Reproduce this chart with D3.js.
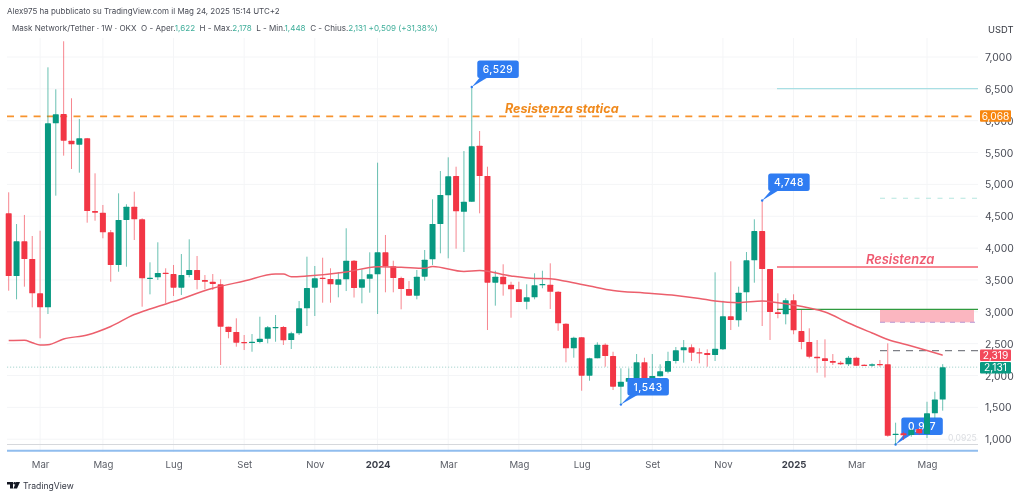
<!DOCTYPE html>
<html><head><meta charset="utf-8">
<script src="https://cdn.jsdelivr.net/npm/d3@7"></script>
<style>
html,body{margin:0;padding:0;background:#fff;overflow:hidden}
svg{display:block;filter:blur(.4px)}
text{font-family:Inter,"Noto Sans",sans-serif}
</style></head><body>
<svg id="c" width="1024" height="497"></svg>
<script>
const opens=[4546,3562,4107,3829,3290,3070,5959,6105,5686,5623,5724,4582,4556,4248,3735,4441,4650,4452,3519,3541,3614,3593,3378,3577,3656,3499,3472,3432,2766,2683,2526,2510,2526,2577,2750,2761,2557,2662,3055,3378,3535,3515,3425,3510,3802,3378,3519,3588,3934,3714,3531,3358,3253,3551,3824,4378,4829,5132,4571,4728,5607,5132,3457,3551,3425,3353,3158,3227,3425,3425,3315,2813,2427,2599,1997,2270,2483,2306,1824,1902,1956,2207,1940,1987,2059,2227,2395,2442,2364,2353,2322,2411,2929,2866,3306,3808,4268,3672,2992,2961,3180,2698,2526,2295,2270,2227,2201,2175,2279,2169,2154,2180,2175,1065,1092,1065,1160,1081,1406,1622];
const highs=[4876,4378,4520,4190,4273,6838,6493,7247,6352,6027,5729,5174,4677,4284,4860,4688,4885,4468,3777,4091,3683,3735,3907,4138,3876,3577,3593,3510,2766,2898,2636,2651,2923,2777,2950,2777,2687,3169,3865,3719,3849,3683,3625,4311,3813,3667,3934,5341,4206,3802,3551,3483,3656,3970,4766,5210,5425,5278,5524,6529,5838,5278,3645,3746,3472,3472,3432,3604,3645,3761,3322,2819,2609,2604,2279,2521,2505,2373,2113,2113,2337,2279,2337,2176,2373,2447,2557,2489,2427,2411,3620,3174,3793,3394,3939,4452,4748,3672,3290,3212,3275,3028,2741,2557,2568,2337,2227,2306,2295,2175,2191,2243,2505,1259,1117,1171,1171,1588,1745,2178];
const lows=[3331,3196,3394,3070,2584,2965,4823,5451,5242,5184,4399,4430,4154,3472,3629,3708,4127,3080,3274,3499,3133,3248,3264,3541,3353,3353,3342,2165,2584,2452,2400,2373,2505,2505,2530,2479,2416,2636,2777,2934,3143,3143,3227,3326,3224,3133,3300,2965,3306,3306,3039,3253,3196,3488,3735,3918,3840,3991,3939,4724,4546,2714,3096,3253,2907,3154,3039,3196,3369,3044,2703,2207,2279,1761,1918,2270,2138,1772,1543,1851,1956,1929,1898,1981,2034,2188,2201,2227,2191,2138,2227,2400,2714,2766,3001,3457,2777,2557,2898,2803,2647,2411,2270,2044,1968,2165,2165,2149,2149,2149,2138,2138,1039,917,987,1039,1065,1018,1328,1448];
const closes=[3562,4107,3829,3290,3070,5959,6100,5686,5630,5724,4582,4556,4248,3735,4441,4650,4452,3526,3535,3609,3593,3378,3577,3656,3499,3472,3436,2766,2683,2515,2515,2530,2577,2757,2761,2552,2662,3055,3373,3526,3519,3432,3510,3802,3373,3510,3588,3934,3714,3531,3358,3253,3551,3818,4378,4834,5127,4578,4728,5598,5132,3457,3551,3432,3353,3154,3227,3416,3436,3315,2819,2427,2593,1997,2270,2483,2306,1824,1902,1960,2207,1956,1992,2066,2227,2395,2442,2358,2353,2322,2420,2929,2871,3300,3808,4268,3672,2997,2965,3180,2709,2526,2295,2270,2227,2201,2175,2279,2154,2160,2175,2165,1054,1086,1061,1144,1092,1406,1622,2131];

const maIndex=[0,2,3,4,5,7,10,13,16,18,21,26,30,34,35,36,38,43,47,50,53,54,58,60,64,67,69,71,74,77,81,85,88,90,93,96,98,100,102,104,107,110,112,115,117,119];
const maValues=[2548,2552,2515,2479,2483,2573,2636,2769,2957,3044,3161,3369,3483,3593,3593,3551,3562,3625,3708,3699,3683,3711,3633,3648,3562,3523,3519,3479,3405,3334,3295,3256,3209,3169,3143,3169,3143,3106,3059,2997,2824,2667,2565,2463,2392,2319];

const priceTicks=[1000,1500,2000,2500,3000,3500,4000,4500,5000,5500,6000,6500,7000];
const timeIndex=[4,12,21,30,39,47,56,65,73,82,91,100,108,117];
const timeLabels=["Mar","Mag","Lug","Set","Nov","2024","Mar","Mag","Lug","Set","Nov","2025","Mar","Mag"];
const boldLabels=["2024","2025"];

const staticResistance=6068, lastClose=2131, maLast=2319;
const topLine=6505, upperDashed=4782, resistance=3703, greenLevel=3039, zoneLow=2835, greyDashed=2389, lowLine=917, blueLine=819;
const peaks=[{i:59,v:6529,t:"6,529",dx:5.5,dy:-26.5},{i:96,v:4748,t:"4,748",dx:6,dy:-27},{i:78,v:1543,t:"1,543",dx:6.5,dy:-26.5}];
const bottomPeak={i:113,v:917,t:"0,917",dx:5.7,dy:-27};

const GREEN="#089981",RED="#f23645";
const svg=d3.select("#c");
const x=d3.scaleLinear().domain([0,119]).range([8.7,942.7]);
const y=d3.scaleLinear().domain([1000,7000]).range([439.2,57]);
const L=7,R=978;

// grid
const grid=svg.append("g").attr("stroke","#f4f5f7").attr("stroke-width",1);
grid.selectAll("line.v").data(timeIndex).join("line").attr("class","v").attr("x1",d=>x(d)).attr("x2",d=>x(d)).attr("y1",38).attr("y2",452);
grid.selectAll("line.h").data(priceTicks).join("line").attr("class","h").attr("x1",L).attr("x2",R).attr("y1",d=>y(d)).attr("y2",d=>y(d));

// axes
const yAxis=d3.axisRight(y).tickValues(priceTicks).tickSize(0).tickPadding(0).tickFormat(d3.format(","));
const gy=svg.append("g").attr("transform","translate(985,0)").call(yAxis);
gy.select(".domain").remove();
gy.selectAll("text").attr("font-size",10.4).attr("fill","#4a4d57").attr("dy",".34em");
const xAxis=d3.axisBottom(x).tickValues(timeIndex).tickSize(0).tickPadding(0).tickFormat(d=>timeLabels[timeIndex.indexOf(d)]);
const gx=svg.append("g").attr("transform","translate(0,461.3)").call(xAxis);
gx.select(".domain").remove();
gx.selectAll("text").attr("font-size",9.6).attr("dy",".71em")
  .attr("font-weight",function(){return boldLabels.includes(this.textContent)?700:400})
  .attr("fill",function(){return boldLabels.includes(this.textContent)?"#3a3e49":"#5a5d66"});

function hline(v,x1,x2,color,w,dash,op){
  const l=svg.append("line").attr("x1",x1).attr("x2",x2).attr("y1",y(v)).attr("y2",y(v)).attr("stroke",color).attr("stroke-width",w);
  if(dash)l.attr("stroke-dasharray",dash); if(op)l.attr("opacity",op); return l;
}
hline(lastClose,L,R,"#a9d5cf",1,"1.2 1.8");
hline(lowLine,L,R,"#d6d8dc",1);
hline(blueLine,L,R,"#90bdee",2);
hline(topLine,777,R,"#a9dfe4",1.3);
hline(upperDashed,880,R,"#b5e6df",1.1,"5 6.5");
hline(greyDashed,880,R,"#7d7f86",1.2,"7 6");
svg.append("rect").attr("x",880).attr("width",94).attr("y",y(greenLevel)).attr("height",y(zoneLow)-y(greenLevel)).attr("fill","#fbb6c0");
hline(zoneLow,880,R,"#b796d2",1.1,"5 5");
hline(greenLevel,777,R,"#2e9a3e",1.2);
hline(resistance,777,R,"#f4616f",1.5);
hline(staticResistance,L,972,"#f7932e",1.7,"7 6.3");

// moving average
const maLine=d3.line().x((d,k)=>x(maIndex[k])).y(d=>y(d)).curve(d3.curveMonotoneX);

// label under the candles
function tag(g,p){
  const tipX=x(p.i),tipY=y(p.v),bx=tipX+p.dx,by=tipY+p.dy,w=41.5,h=17.5;
  g.append("path").attr("d",`M${tipX},${tipY}L${bx+3},${by+h-1}L${bx+11},${by+h-1}Z`).attr("fill","#2f7cf2");
  g.append("rect").attr("x",bx).attr("y",by).attr("width",w).attr("height",h).attr("rx",2.5).attr("fill","#2f7cf2");
  g.append("circle").attr("cx",tipX).attr("cy",tipY).attr("r",1.2).attr("fill","#2f7cf2");
  g.append("text").attr("x",bx+w/2).attr("y",by+h/2+3.8).attr("text-anchor","middle").attr("font-size",10.2).attr("font-weight",500).attr("letter-spacing",".5").attr("fill","#fff").text(p.t);
}
tag(svg.append("g"),bottomPeak);

// candles
const idx=d3.range(opens.length);
const bw=6;
const cg=svg.append("g");
cg.selectAll("line").data(idx).join("line")
  .attr("x1",i=>x(i)).attr("x2",i=>x(i)).attr("y1",i=>y(highs[i])).attr("y2",i=>y(lows[i]))
  .attr("stroke",i=>closes[i]>=opens[i]?GREEN:RED).attr("stroke-width",1).attr("opacity",.6);
cg.selectAll("rect").data(idx).join("rect")
  .attr("x",i=>x(i)-bw/2).attr("width",bw)
  .attr("y",i=>y(Math.max(opens[i],closes[i])))
  .attr("height",i=>Math.max(1.2,Math.abs(y(opens[i])-y(closes[i]))))
  .attr("rx",.6).attr("fill",i=>closes[i]>=opens[i]?GREEN:RED);

svg.append("path").attr("d",maLine(maValues)).attr("fill","none").attr("stroke","#ec5f6c").attr("stroke-width",1.5);

// price tags
const tagsG=svg.append("g");
peaks.forEach(p=>tag(tagsG.append("g"),p));

// drawing labels
svg.append("text").attr("x",505).attr("y",112.5).attr("font-size",12.6).attr("font-weight",700).attr("font-style","italic").attr("fill","#f08a1d").text("Resistenza statica");
svg.append("text").attr("x",866).attr("y",264).attr("font-size",12.9).attr("font-weight",600).attr("font-style","italic").attr("fill","#ef5a70").text("Resistenza");
svg.append("text").attr("x",948).attr("y",441).attr("font-size",8.6).attr("fill","#dcdee2").text("0,0925");

// axis boxes
function box(v,t,color,cy){
  svg.append("rect").attr("x",980).attr("y",cy-5.7).attr("width",31).attr("height",11.4).attr("rx",1).attr("fill",color);
  svg.append("text").attr("x",995.5).attr("y",cy+3.7).attr("text-anchor","middle").attr("font-size",10.2).attr("fill","#fff").text(t);
}
box(staticResistance,"6,068","#f7860f",y(staticResistance)-.3);
box(maLast,"2,319","#f2495b",y(maLast));
box(lastClose,"2,131",GREEN,y(lastClose)+.6);

svg.append("text").attr("x",988).attr("y",32.5).attr("font-size",9.4).attr("fill","#33363f").text("USDT");

// header
svg.append("text").attr("x",7).attr("y",13.6).attr("font-size",7.97).attr("fill","#4a4d57").text("Alex975 ha pubblicato su TradingView.com il Mag 24, 2025 15:14 UTC+2");
const hdr=svg.append("text").attr("x",12).attr("y",31.2).attr("font-size",8.07).attr("fill","#4a4d57").attr("xml:space","preserve");
[["Mask Network/Tether · 1W · OKX  O - Aper.",0],["1,622",1],["  H - Max.",0],["2,178",1],["  L - Min.",0],["1,448",1],["  C - Chius.",0],["2,131 +0,509 (+31,38%)",1]]
 .forEach(([t,c])=>hdr.append("tspan").attr("fill",c?"#3fae9a":"#4a4d57").text(t));

// logo
const logo=svg.append("g").attr("transform","translate(7,482)").attr("fill","#131722");
logo.append("path").attr("d","M0,0H6V6.5H3V2.5H0Z");
logo.append("circle").attr("cx",7.7).attr("cy",1.3).attr("r",1.3);
logo.append("path").attr("d","M9.2,0H13L10,6.5H6.4Z");
svg.append("text").attr("x",23).attr("y",489).attr("font-size",8.6).attr("fill","#333743").text("TradingView");
</script></body></html>
